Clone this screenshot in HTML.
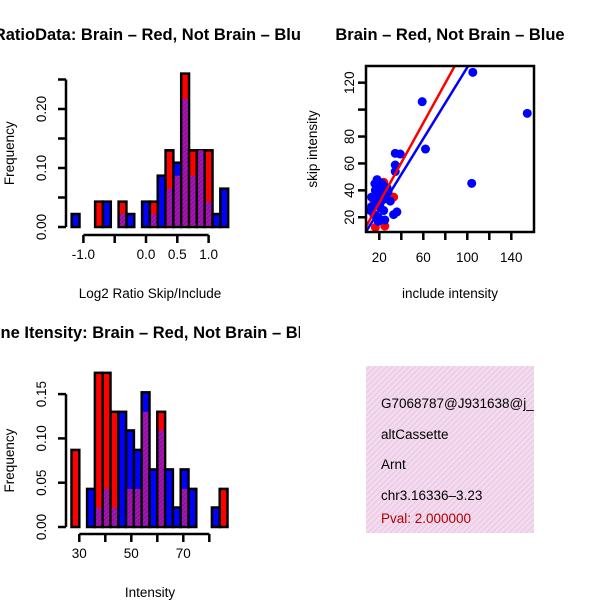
<!DOCTYPE html>
<html><head><meta charset="utf-8"><style>
body{margin:0;background:#fff;}
svg text{font-family:"Liberation Sans",Arial,sans-serif;}
</style></head><body>
<svg id="c" width="600" height="600" viewBox="0 0 600 600">
<defs>
<pattern id="hatch" width="3" height="3" patternUnits="userSpaceOnUse" patternTransform="rotate(45)">
<rect width="3" height="3" fill="#b010c0"/><rect width="1.2" height="3" fill="#7a1888"/>
</pattern>
<pattern id="pink" width="4" height="4" patternUnits="userSpaceOnUse" patternTransform="rotate(45)">
<rect width="4" height="4" fill="#f8d8f4"/><rect width="1.3" height="4" fill="#e0d0d8"/>
</pattern>
<clipPath id="leftclip"><rect x="0" y="0" width="300" height="600"/></clipPath>
</defs>
</svg>
<script>
// ---- data: ratio histogram ----
var ratioBreakStart = -1.1875, ratioBinWidth = 0.125;
var ratioRed  = [0,0,0,0.043,0,0,0.043,0,0,0,0.043,0,0.13,0.087,0.26,0.13,0.13,0.13,0,0];
var ratioBlue = [0.022,0,0,0,0.043,0,0.022,0.022,0,0.043,0.022,0.087,0.065,0.109,0.217,0.087,0.13,0.043,0.022,0.065];
var ratioXTicks = [-1.0,-0.5,0.0,0.5,1.0];
var ratioXLabels = ["-1.0","","0.0","0.5","1.0"];
var ratioYTicks = [0,0.05,0.10,0.15,0.20,0.25];
var ratioYLabels = ["0.00","","0.10","","0.20",""];
// ---- data: intensity histogram ----
var intBreakStart = 27, intBinWidth = 3;
var intRed  = [0.087,0,0,0.174,0.174,0.13,0,0.043,0.043,0.13,0,0.13,0,0,0.043,0,0,0,0,0.043];
var intBlue = [0,0,0.043,0.022,0.043,0.022,0.13,0.109,0.087,0.152,0.065,0.109,0.065,0.022,0.065,0.043,0,0,0.022,0];
var intXTicks = [30,40,50,60,70,80];
var intXLabels = ["30","","50","","70",""];
var intYTicks = [0,0.05,0.10,0.15];
var intYLabels = ["0.00","0.05","0.10","0.15"];
// ---- data: scatter ----
var blueX = [105,59,154.5,62,104,34.5,39,34.5,34.5,18,22.5,16.4,13,21,26,30,13,21,24,33,12,19,25,19,16,28,23,36,20,27,15,18,22,17];
var blueY = [127.7,105.9,97.2,70.7,45.2,67.5,67,58.8,54,48,45,40,35,37,34,32,28,27,25,22,25,20,18,17,45,39,33,24,30,42,22,36,41,30];
var redX = [16.4,25,14,33,24];
var redY = [12.5,13.5,34,35,46];
var redLine = [1.3,1.48];   // intercept, slope
var blueLine = [-1.2,1.326];
var scXTicks = [20,40,60,80,100,120,140];
var scXLabels = ["20","","60","","100","","140"];
var scYTicks = [20,40,60,80,100,120];
var scYLabels = ["20","40","60","80","","120"];

var svg = document.getElementById('c');
var NS = 'http://www.w3.org/2000/svg';
var FS = 13.5;
function el(tag, attrs, parent){var e=document.createElementNS(NS,tag);for(var k in attrs)e.setAttribute(k,attrs[k]);(parent||svg).appendChild(e);return e;}
function txt(s,x,y,attrs,parent){var t=el('text',attrs,parent);t.setAttribute('x',x);t.setAttribute('y',y);t.textContent=s;return t;}

function histogram(name, breakStart, bw, red, blue, xs, ys, xTicks, xLabels, yTicks, yLabels, axisY, xlab, ylab, title, titleX, titleY, xlabY){
  var g = el('g',{});
  
  
  for (var i=0;i<red.length;i++){
    var x0 = xs(breakStart+i*bw), x1 = xs(breakStart+(i+1)*bw);
    var r = red[i], b = blue[i], lo = Math.min(r,b), hi = Math.max(r,b);
    if (hi<=0) continue;
    var col = r>b ? '#ff0000' : '#0000ff';
    var bar = el('rect',{x:x0,y:ys(hi),width:x1-x0,height:ys(0)-ys(hi),fill:col,stroke:'#000','stroke-width':2.5},g);
    
    
    if (lo>0){
      var ov = el('rect',{x:x0+1.2,y:ys(lo),width:x1-x0-2.4,height:ys(0)-ys(lo)-1.2,fill:'url(#hatch)'},g);
      
      
    }
  }
  var ya = el('g',{},g);
  
  
  el('line',{x1:66,x2:66,y1:ys(yTicks[0]),y2:ys(yTicks[yTicks.length-1]),stroke:'#000','stroke-width':2.5},ya);
  yTicks.forEach(function(v,i){
    el('line',{x1:58,x2:66,y1:ys(v),y2:ys(v),stroke:'#000','stroke-width':2.5},ya);
    if (yLabels[i]) txt(yLabels[i],0,0,{'font-size':FS,'text-anchor':'middle',transform:'translate(46,'+ys(v)+') rotate(-90)'},ya);
  });
  var xa = el('g',{},g);
  
  
  el('line',{x1:xs(xTicks[0]),x2:xs(xTicks[xTicks.length-1]),y1:axisY,y2:axisY,stroke:'#000','stroke-width':2.5},xa);
  xTicks.forEach(function(v,i){
    el('line',{x1:xs(v),x2:xs(v),y1:axisY,y2:axisY+8,stroke:'#000','stroke-width':2.5},xa);
    if (xLabels[i]) txt(xLabels[i],xs(v),axisY+24,{'font-size':FS,'text-anchor':'middle'},xa);
  });
  var xl = txt(xlab,150,xlabY,{'font-size':FS,'text-anchor':'middle'},g);
  
  
  var mid = (ys(yTicks[0])+ys(yTicks[yTicks.length-1]))/2;
  var yl = txt(ylab,0,0,{'font-size':FS,'text-anchor':'middle',transform:'translate(14,'+mid+') rotate(-90)'},g);
  
  
  var tt = txt(title,titleX,titleY,{'font-size':16.5,'font-weight':'bold','text-anchor':'middle','clip-path':'url(#leftclip)'},g);
  
  
}

function rx(v){return 146 + v*62.6;}
function ry(v){return 227 - v*590;}
histogram('ratio-histogram', ratioBreakStart, ratioBinWidth, ratioRed, ratioBlue, rx, ry, ratioXTicks, ratioXLabels, ratioYTicks, ratioYLabels, 235, 'Log2 Ratio Skip/Include','Frequency','RatioData: Brain \u2013 Red, Not Brain \u2013 Blue',152,40,298);
function ix(v){return 79.3 + (v-30)*2.6;}
function iy(v){return 527 - v*886;}
histogram('intensity-histogram', intBreakStart, intBinWidth, intRed, intBlue, ix, iy, intXTicks, intXLabels, intYTicks, intYLabels, 534, 'Intensity','Frequency','Gene Itensity: Brain \u2013 Red, Not Brain \u2013 Blue',150,338,597);

// scatter
function sx(v){return 357.3 + v*1.1;}
function sy(v){return 244.2 - v*1.346;}
var sg = el('g',{});


el('clipPath',{id:'sclip'},sg).appendChild(document.createElementNS(NS,'rect'));
var cr = sg.querySelector('#sclip rect'); cr.setAttribute('x',366);cr.setAttribute('y',66);cr.setAttribute('width',168);cr.setAttribute('height',166);
var pts = el('g',{'clip-path':'url(#sclip)'},sg);
redX.forEach(function(v,i){
  var c = el('circle',{cx:sx(v),cy:sy(redY[i]),r:4.5,fill:'#ff0000'},pts);
  
  
});
blueX.forEach(function(v,i){
  var c = el('circle',{cx:sx(v),cy:sy(blueY[i]),r:4.5,fill:'#0000ff'},pts);
  
  
});
function fitLine(p,col,name){
  var l = el('line',{x1:sx(0),y1:sy(p[0]),x2:sx(160),y2:sy(p[0]+p[1]*160),stroke:col,'stroke-width':2.5},pts);
  
  
}
fitLine(redLine,'#ff0000','red-fit-line');
fitLine(blueLine,'#0000ff','blue-fit-line');
var box = el('rect',{x:366,y:66,width:168,height:166,fill:'none',stroke:'#000','stroke-width':2.5},sg);


scYTicks.forEach(function(v,i){
  el('line',{x1:358,x2:366,y1:sy(v),y2:sy(v),stroke:'#000','stroke-width':2.5},sg);
  if (scYLabels[i]) txt(scYLabels[i],0,0,{'font-size':FS,'text-anchor':'middle',transform:'translate(354,'+sy(v)+') rotate(-90)'},sg);
});
scXTicks.forEach(function(v,i){
  el('line',{x1:sx(v),x2:sx(v),y1:232,y2:240,stroke:'#000','stroke-width':2.5},sg);
  if (scXLabels[i]) txt(scXLabels[i],sx(v),262,{'font-size':FS,'text-anchor':'middle'},sg);
});
var t1 = txt('include intensity',450,298,{'font-size':FS,'text-anchor':'middle'},sg);


var t2 = txt('skip intensity',0,0,{'font-size':FS,'text-anchor':'middle',transform:'translate(317,149) rotate(-90)'},sg);


var t3 = txt('Brain \u2013 Red, Not Brain \u2013 Blue',450,40,{'font-size':16.5,'font-weight':'bold','text-anchor':'middle'},sg);



// info box
var ig = el('g',{});


el('rect',{x:366,y:366,width:168,height:167,fill:'url(#pink)'},ig);
el('clipPath',{id:'iclip'},ig).appendChild(document.createElementNS(NS,'rect'));
var ir = ig.querySelector('#iclip rect'); ir.setAttribute('x',366);ir.setAttribute('y',366);ir.setAttribute('width',168);ir.setAttribute('height',167);
var it = el('g',{'clip-path':'url(#iclip)'},ig);
var lines = [['G7068787@J931638@j_',408,'#000','gene-id'],['altCassette',439,'#000','event-type'],['Arnt',469,'#000','gene-name'],['chr3.16336\u20133.23',500,'#000','location'],['Pval: 2.000000',523,'#b00000','pval']];
lines.forEach(function(l){
  var t = txt(l[0],381,l[1],{'font-size':FS,fill:l[2]},it);
  
  
});
</script>
</body></html>
